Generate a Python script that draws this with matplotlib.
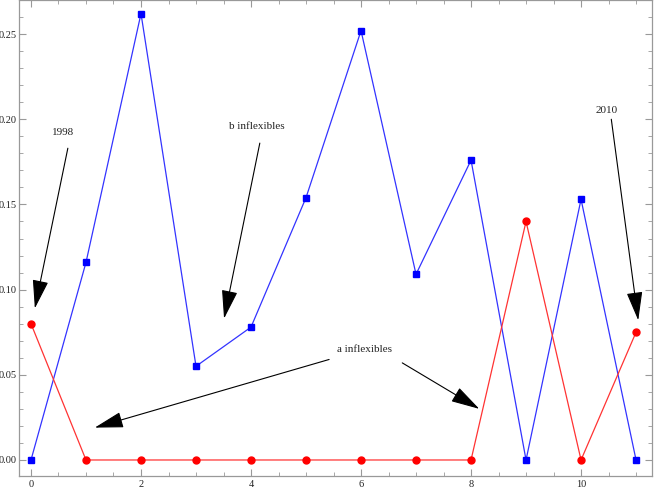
import matplotlib
matplotlib.use("Agg")
from matplotlib import pyplot as plt
from matplotlib.ticker import MultipleLocator, FormatStrFormatter

years = list(range(12))
b_inflexibles = [0.0, 0.116, 0.262, 0.055, 0.078, 0.154, 0.252, 0.109, 0.176, 0.0, 0.153, 0.0]
a_inflexibles = [0.080, 0.0, 0.0, 0.0, 0.0, 0.0, 0.0, 0.0, 0.0, 0.140, 0.0, 0.075]

# (label, text pos, arrow tail, arrow tip) in data coordinates
notes = [
    ("1998", (0.58, 0.192), (0.67, 0.183), (0.07, 0.089)),
    ("b inflexibles", (4.10, 0.196), (4.16, 0.186), (3.51, 0.083)),
    ("a inflexibles", (6.07, 0.0646), (5.42, 0.059), (1.16, 0.019)),
    (None, None, (6.75, 0.057), (8.15, 0.030)),
    ("2010", (10.47, 0.205), (10.55, 0.200), (11.04, 0.082)),
]

plt.rcParams['font.family'] = ['Liberation Serif', 'DejaVu Serif']

fig = plt.figure(figsize=(6.54, 4.90), dpi=100)
ax = fig.add_axes([19/654, 14/490, 633/654, 476/490])

ax.plot(years, b_inflexibles, color='#3333ff', lw=0.9, zorder=2)
ax.plot(years, b_inflexibles, ls='none', marker='s', ms=4.5, color='#0000ff', zorder=3)
ax.plot(years, a_inflexibles, color='#ff3333', lw=0.9, zorder=2)
ax.plot(years, a_inflexibles, ls='none', marker='o', ms=5, color='#ff0000', zorder=3)

for label, tpos, tail, tip in notes:
    if label:
        ax.text(tpos[0], tpos[1], label, ha='center', va='center', fontsize=8, color='#222222')
    ax.annotate("", xy=tip, xytext=tail,
                arrowprops=dict(arrowstyle='-|>,head_length=1.8,head_width=0.5',
                                color='black', lw=0.8, shrinkA=0, shrinkB=0))

ax.set_xlim(-0.218, 11.29)
ax.set_ylim(-0.0094, 0.270)
ax.xaxis.set_major_locator(MultipleLocator(2))
ax.xaxis.set_minor_locator(MultipleLocator(0.5))
ax.yaxis.set_major_locator(MultipleLocator(0.05))
ax.yaxis.set_minor_locator(MultipleLocator(0.01))
ax.yaxis.set_major_formatter(FormatStrFormatter('%.2f'))

for s in ax.spines.values():
    s.set_color('#999999')
    s.set_linewidth(0.9)
ax.tick_params(which='both', direction='in', top=True, right=True, color='#999999',
               labelcolor='#222222')
ax.tick_params(which='major', length=5, width=0.8, labelsize=7.5)
ax.tick_params(axis='y', which='major', pad=1.5)
ax.tick_params(axis='x', which='major', pad=3)
ax.tick_params(which='minor', length=3, width=0.6)

fig.savefig("out.png", dpi=100)
